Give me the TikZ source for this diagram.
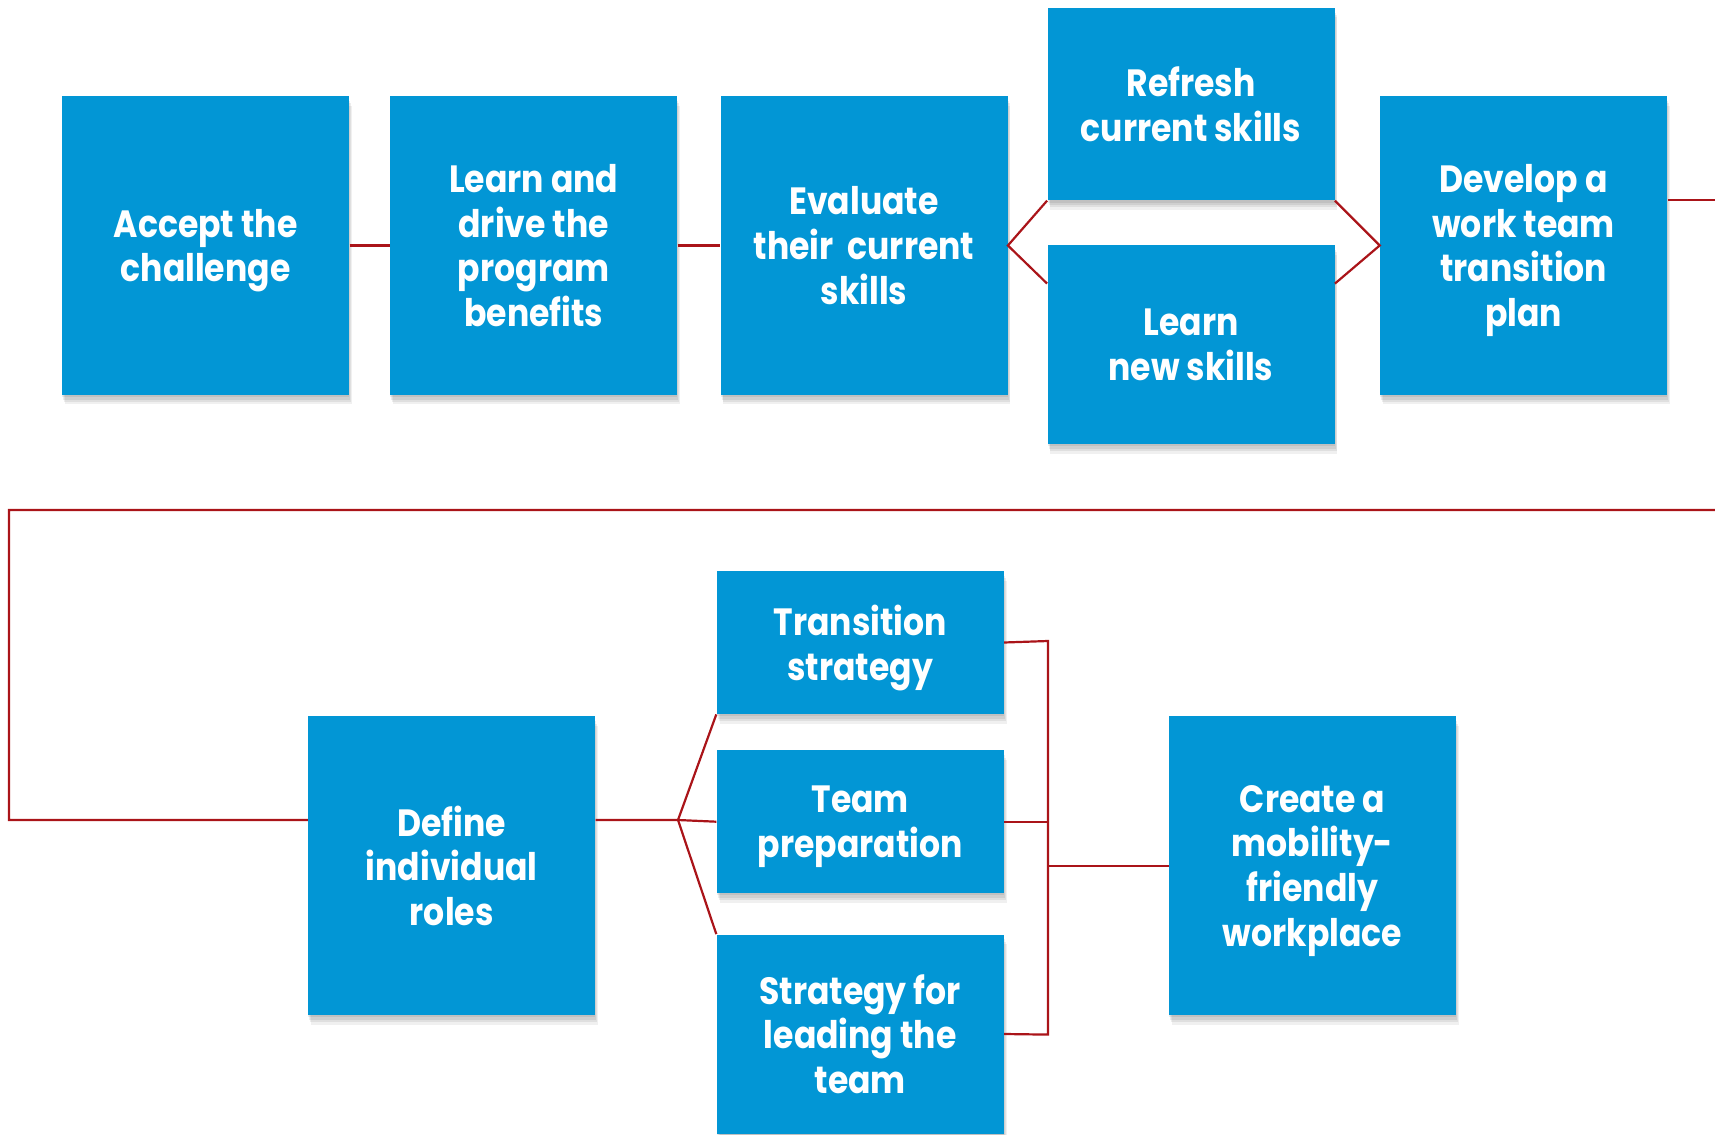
\documentclass[tikz,border=0pt]{standalone}
\usepackage{fontspec}
\setmainfont{Poppins}[FakeStretch=0.87]
\usetikzlibrary{shadows}
\definecolor{boxblue}{RGB}{2,150,213}
\definecolor{linered}{RGB}{170,20,25}
\begin{document}
\begin{tikzpicture}[x=0.5pt,y=-0.5pt,
  box/.style={fill=boxblue, text=white, font=\bfseries\fontsize{19}{22.3}\selectfont,
    align=center, inner sep=0pt, minimum width=143.5pt, text depth=0pt,
    drop shadow={opacity=0.07, shadow xshift=0pt, shadow yshift=-1.2pt, fill=black},
    drop shadow={opacity=0.07, shadow xshift=0.6pt, shadow yshift=-2.4pt, fill=black},
    drop shadow={opacity=0.07, shadow xshift=1pt, shadow yshift=-3.6pt, fill=black},
    drop shadow={opacity=0.06, shadow xshift=1.4pt, shadow yshift=-4.8pt, fill=black}},
  link/.style={draw=linered, line width=1.1pt}]
\useasboundingbox (0,0) rectangle (1715,1135);

\node[box, minimum height=149.3pt] (accept) at (205.6,245.5) {Accept the\\challenge};
\node[box, minimum height=149.3pt] (learn) at (533.75,245.5) {Learn and\\drive the\\program\\benefits};
\node[box, minimum height=149.3pt] (evaluate) at (864,245.5) {Evaluate\\their~~current\\skills};
\node[box, minimum height=96.25pt] (refresh) at (1191,104) {Refresh\\current skills};
\node[box, minimum height=99.5pt] (newskills) at (1191,344.5) {Learn\\new skills};
\node[box, minimum height=149.3pt] (develop) at (1523.6,245.5) {Develop a\\work team\\transition\\plan};

\node[box, minimum height=149.3pt] (define) at (451.7,865.7) {Define\\individual\\roles};
\node[box, minimum height=71.5pt] (transition) at (860.2,642.5) {Transition\\strategy};
\node[box, minimum height=71.25pt] (teamprep) at (860.2,821.7) {Team\\preparation};
\node[box, minimum height=99.5pt] (leading) at (860.2,1034) {Strategy for\\leading the\\team};
\node[box, minimum height=149.3pt] (create) at (1312.5,865.7) {Create a\\mobility-\\friendly\\workplace};

\coordinate (rtop) at (1715,200);
\coordinate (rlong) at (1715,510);
\coordinate (lcorner) at (9,510);
\coordinate (lbottom) at (9,820);
\coordinate (junc) at (678,820);
\coordinate (btop) at (1048,641);
\coordinate (bbot) at (1048,1034.6);
\coordinate (bmid) at (1048,865.7);

\draw[link] (accept.east) -- (learn.west);
\draw[link] (learn.east) -- (evaluate.west);
\draw[link] (refresh.south west) -- (evaluate.east) -- ([yshift=-19.5pt]newskills.north west);
\draw[link] (refresh.south east) -- (develop.west) -- ([yshift=-19.5pt]newskills.north east);
\draw[link] ([yshift=22.75pt]develop.east) -- (rtop);
\draw[link] (rlong) -- (lcorner) -- (lbottom) -- ([yshift=22.85pt]define.west);
\draw[link] ([yshift=22.85pt]define.east) -- (junc);
\draw[link] (junc) -- (transition.south west);
\draw[link] (junc) -- (teamprep.west);
\draw[link] (junc) -- (leading.north west);
\draw[link] (transition.east) -- (btop) -- (bbot) -- (leading.east);
\draw[link] (teamprep.east) -- (teamprep.east -| btop);
\draw[link] (bmid) -- (create.west);
\end{tikzpicture}
\end{document}
